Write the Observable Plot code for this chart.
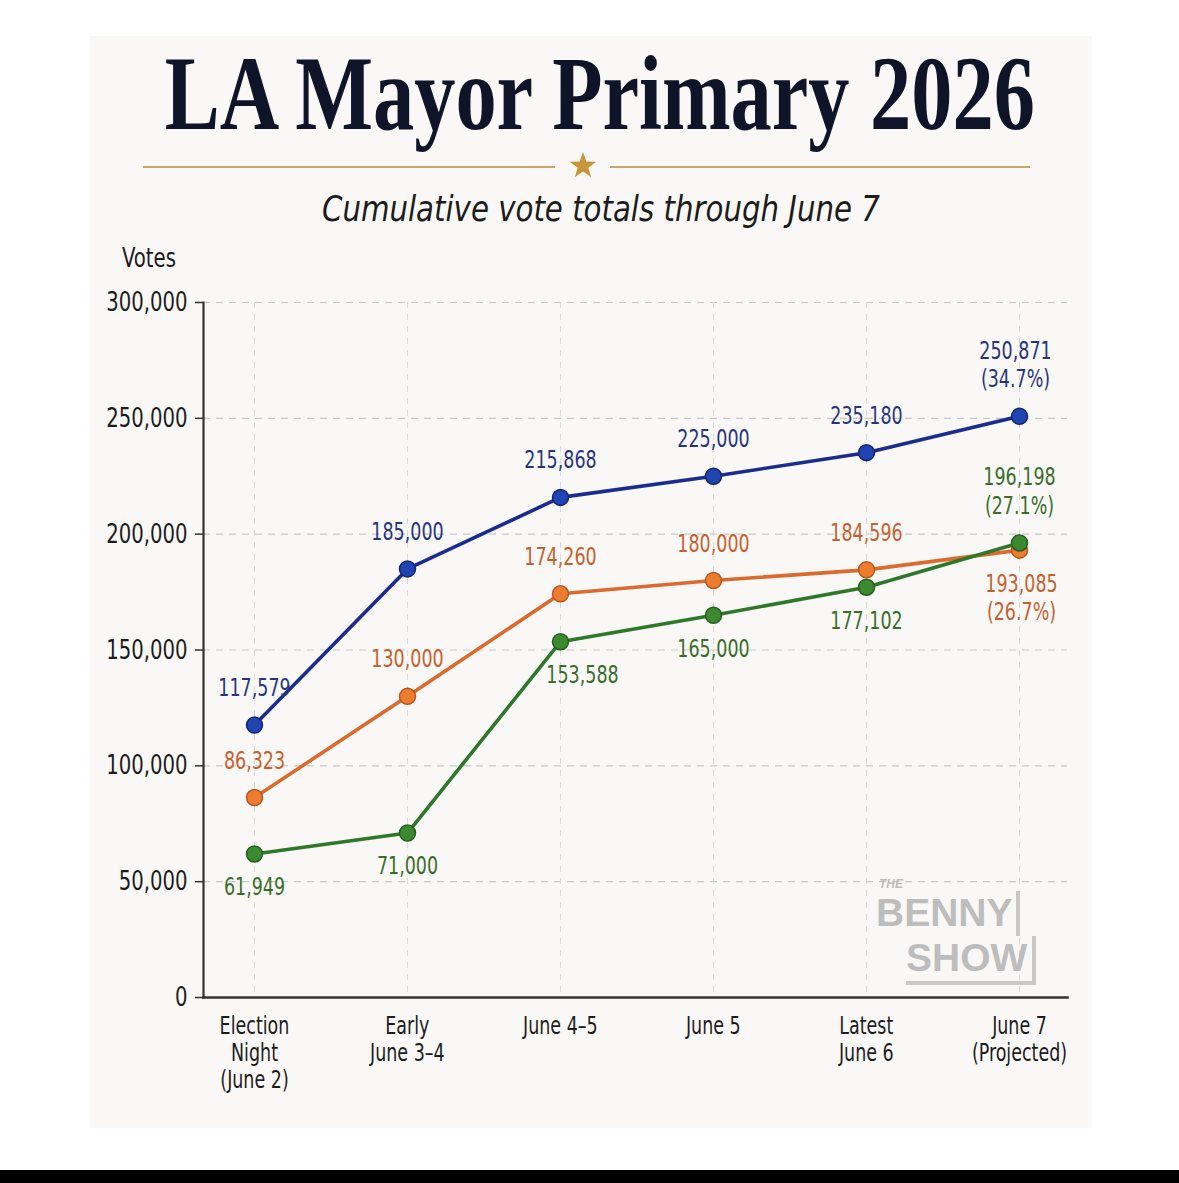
<!DOCTYPE html>
<html>
<head>
<meta charset="utf-8">
<script src="https://cdn.jsdelivr.net/npm/d3@7"></script>
<script src="https://cdn.jsdelivr.net/npm/@observablehq/plot@0.6"></script>
<style>
  html, body { margin: 0; padding: 0; background: #ffffff; }
  body { width: 1179px; height: 1183px; position: relative; overflow: hidden; }
  .narrow { font-family: "Liberation Sans Narrow", "DejaVu Sans Condensed", "Roboto Condensed", sans-serif; font-stretch: condensed; }
  #card { position: absolute; left: 90px; top: 36px; width: 1002px; height: 1092px; background: #f9f8f6; }
  .abs { position: absolute; white-space: nowrap; }
  #title { left: 0; top: 41px; width: 1200px; text-align: center; font-family: "Liberation Serif", "DejaVu Serif", serif; font-weight: bold; font-size: 106px; line-height: 106px; color: #0f1428; }
  #title span, #subtitle span, #votes span { display: inline-block; transform-origin: center center; }
  #votes span { transform-origin: left center; }
  #ruleL { left: 143px; top: 166px; width: 412px; height: 2px; background: #c9a765; }
  #ruleR { left: 610px; top: 166px; width: 420px; height: 2px; background: #c9a765; }
  #star { position: absolute; left: 568px; top: 151px; }
  #subtitle { left: 0; top: 189px; width: 1202px; text-align: center; font-style: italic; font-size: 36px; line-height: 40px; color: #1c1c1c; }
  #votes { left: 122px; top: 243px; font-size: 26px; line-height: 30px; color: #1c1c1c; }
  #chart { position: absolute; left: 90px; top: 280px; }
  #logo { left: 876px; top: 878px; width: 185px; height: 115px; color: #bdbdbd; font-family: "Liberation Sans", "DejaVu Sans", sans-serif; font-weight: bold; }
  #logo span { position: absolute; line-height: 1.15; }
  #logo .the { left: 3px; top: 0px; font-size: 12px; font-style: italic; }
  #logo .b1 { left: 0px; top: 13px; font-size: 39px; border-right: 4px solid #c8c8c8; padding-right: 3px; }
  #logo .b2 { left: 30px; top: 58px; font-size: 39px; border-right: 4px solid #c8c8c8; border-bottom: 4px solid #c8c8c8; padding-right: 5px; }
  #bar { position: absolute; left: 0; top: 1170px; width: 1179px; height: 13px; background: #000; }
</style>
</head>
<body>
<div id="card"></div>
<div id="title" class="abs"><span>LA Mayor Primary 2026</span></div>
<div id="ruleL" class="abs"></div>
<div id="ruleR" class="abs"></div>
<svg id="star" width="30" height="30" viewBox="-15 -15 30 30"><polygon fill="#c8953a" points="0,-14 3.3,-4.5 13.3,-4.3 5.3,1.7 8.2,11.3 0,5.6 -8.2,11.3 -5.3,1.7 -13.3,-4.3 -3.3,-4.5"/></svg>
<div id="subtitle" class="abs narrow"><span>Cumulative vote totals through June 7</span></div>
<div id="votes" class="abs narrow"><span>Votes</span></div>
<div id="chart"></div>
<div id="logo" class="abs"><span class="the">THE</span><span class="b1">BENNY</span><span class="b2">SHOW</span></div>
<div id="bar"></div>
<script>
// ---- Data ----
const categories = ["Election\nNight\n(June 2)", "Early\nJune 3–4", "June 4–5", "June 5", "Latest\nJune 6", "June 7\n(Projected)"];
const seriesKeys = ["blue", "orange", "green"];
const blueValues = [117579, 185000, 215868, 225000, 235180, 250871];
const orangeValues = [86323, 130000, 174260, 180000, 184596, 193085];
const greenValues = [61949, 71000, 153588, 165000, 177102, 196198];
const finalShares = ["34.7%", "26.7%", "27.1%"];
const yTicks = [0, 50000, 100000, 150000, 200000, 250000, 300000];

// ---- Styling ----
const FONT = '"Liberation Sans Narrow", "DejaVu Sans Condensed", "Roboto Condensed", sans-serif';
const K = 0.81; // horizontal condensing of chart text
const style = {
  blue:   { line: "#1c2b8e", fill: "#1f45b3", stroke: "#16246e", text: "#28347e", above: [true, true, true, true, true, true], dx: [0, 0, 0, 0, 0, -4] },
  orange: { line: "#dc6a2c", fill: "#ec7d2e", stroke: "#b8561f", text: "#c7602f", above: [true, true, true, true, true, false], dx: [0, 0, 0, 0, 0, 2] },
  green:  { line: "#2f782a", fill: "#3c8a30", stroke: "#275f22", text: "#3a6d2c", above: [false, false, false, false, false, true], dx: [0, 0, 22, 0, 0, 0] }
};
const valuesBy = { blue: blueValues, orange: orangeValues, green: greenValues };
const fmt = d3.format(",");

const rows = [];
seriesKeys.forEach((s, si) => {
  valuesBy[s].forEach((v, i) => {
    const last = i === categories.length - 1;
    rows.push({
      series: s, cat: categories[i], value: v, idx: i,
      label: fmt(v) + (last ? "\n(" + finalShares[si] + ")" : ""),
      above: style[s].above[i]
    });
  });
});

const marks = [
  Plot.gridY(yTicks, { stroke: "#c8c8c8", strokeOpacity: 1, strokeWidth: 1.2, strokeDasharray: "7,6" }),
  Plot.gridX(categories, { stroke: "#dadada", strokeOpacity: 1, strokeWidth: 1, strokeDasharray: "6,6" }),
  Plot.axisY({ ticks: yTicks, tickSize: 8, tickPadding: 8, tickFormat: fmt, fontSize: 27, label: null, stroke: "#333", strokeWidth: 1.5, fill: "#1c1c1c" }),
  Plot.axisX({ tickSize: 0, tickPadding: 17, fontSize: 24, lineHeight: 1.13, label: null, fill: "#1c1c1c" }),
  Plot.frame({ anchor: "left", stroke: "#333", strokeWidth: 2.2 }),
  Plot.frame({ anchor: "bottom", stroke: "#333", strokeWidth: 2.5 })
];
seriesKeys.forEach(s => {
  const data = rows.filter(d => d.series === s);
  marks.push(Plot.line(data, { x: "cat", y: "value", stroke: style[s].line, strokeWidth: 3.6 }));
});
seriesKeys.forEach(s => {
  const data = rows.filter(d => d.series === s);
  const st = style[s];
  marks.push(Plot.dot(data, { x: "cat", y: "value", r: 8, fill: st.fill, stroke: st.stroke, strokeWidth: 1.5 }));
  data.forEach(d => {
    marks.push(Plot.text([d], {
      x: "cat", y: "value", text: "label",
      lineAnchor: d.above ? "bottom" : "top",
      dy: d.above ? -29 : 21, dx: st.dx[d.idx],
      fill: st.text, fontSize: 24, lineHeight: 1.2
    }));
  });
});

const chart = Plot.plot({
  width: 1000, height: 830,
  marginLeft: 113, marginRight: 23, marginTop: 22, marginBottom: 113,
  style: { background: "transparent", fontFamily: FONT, fontSize: "24px", color: "#1c1c1c", overflow: "visible" },
  x: { type: "point", domain: categories, padding: 0, insetLeft: 50, insetRight: 47 },
  y: { domain: [0, 300000] },
  marks
});
document.getElementById("chart").appendChild(chart);

// Condense chart text horizontally around its anchor
chart.querySelectorAll("text").forEach(t => {
  const bb = t.getBBox();
  const anchor = getComputedStyle(t).textAnchor;
  const ax = anchor === "middle" ? bb.x + bb.width / 2 : anchor === "end" ? bb.x + bb.width : bb.x;
  const old = t.getAttribute("transform") || "";
  t.setAttribute("transform", `${old} translate(${ax},0) scale(${K},1) translate(${-ax},0)`);
});

// Condense title/subtitle to the reference widths
function fit(id, target) {
  const sp = document.querySelector("#" + id + " span");
  const w = sp.getBoundingClientRect().width;
  sp.style.transform = "scaleX(" + (target / w) + ")";
}
fit("title", 870);
fit("subtitle", 558);
fit("votes", 54);
</script>
</body>
</html>
